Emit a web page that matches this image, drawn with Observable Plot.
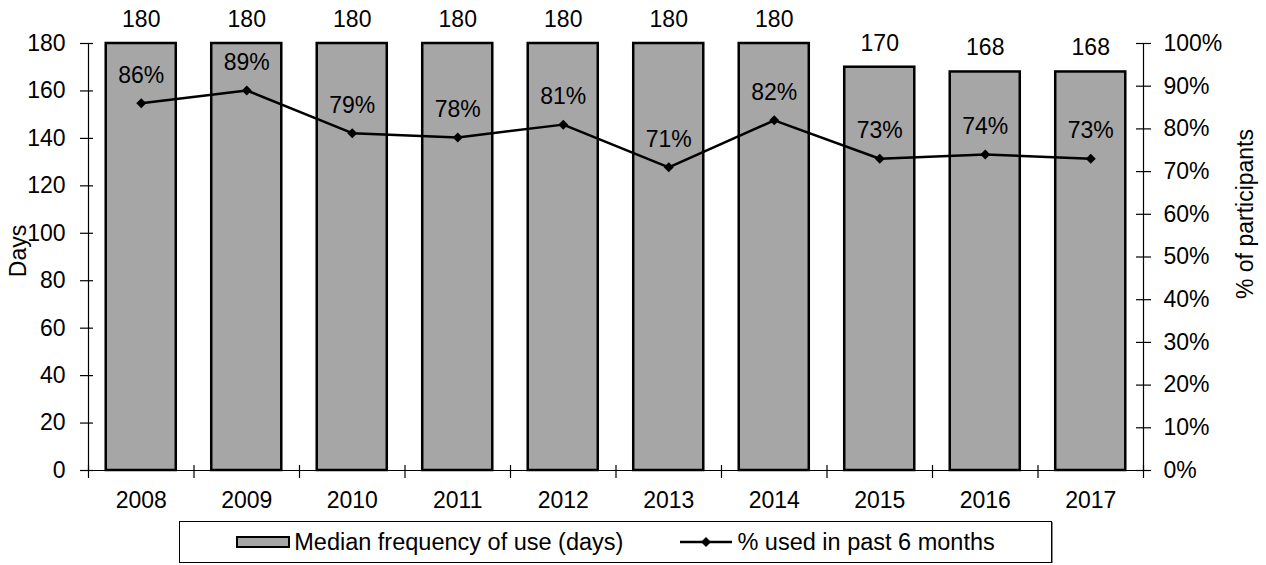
<!DOCTYPE html>
<html>
<head>
<meta charset="utf-8">
<script src="https://cdn.jsdelivr.net/npm/d3@7"></script>
<script src="https://cdn.jsdelivr.net/npm/@observablehq/plot@0.6"></script>
<style>
  body { margin: 0; background: #fff; font-family: "Liberation Sans", Arial, sans-serif; }
  #chart svg { display: block; }
  .legend {
    box-sizing: border-box;
    width: 873px; height: 42px;
    margin: 6px 0 0 179px;
    border: 1px solid #000;
    box-shadow: 1px 1px 0 #888;
    display: flex; align-items: center; justify-content: center; gap: 57px;
    font-size: 23.5px; color: #000;
  }
  .legend .item { display: flex; align-items: center; white-space: nowrap; }
  .legend .swatch {
    box-sizing: border-box; width: 54px; height: 12px;
    background: #a6a6a6; border: 2px solid #000; margin-right: 4px;
  }
  .legend svg { margin-right: 5px; }
</style>
</head>
<body>
<div id="chart"></div>
<script>
// Median number of days of use per year, and share of participants who used in the past 6 months
const years = ["2008", "2009", "2010", "2011", "2012", "2013", "2014", "2015", "2016", "2017"];
const medianDays = [180, 180, 180, 180, 180, 180, 180, 170, 168, 168];
const pctUsed = [86, 89, 79, 78, 81, 71, 82, 73, 74, 73];
const dayTicks = [0, 20, 40, 60, 80, 100, 120, 140, 160, 180];
const pctTicks = [0, 10, 20, 30, 40, 50, 60, 70, 80, 90, 100];
const seriesNames = ["Median frequency of use (days)", "% used in past 6 months"];
const axisTitles = ["Days", "% of participants"];

// The right-hand axis shares the plot height: 100% lines up with 180 days.
const DAYS_MAX = 180;
const toDays = p => p * DAYS_MAX / 100;

const rows = years.map((year, i) => ({ i, year, days: medianDays[i], pct: pctUsed[i] }));
const bandEdges = d3.range(years.length + 1).map(k => k - 0.5);
const halfBar = 0.332;

const font = `"Liberation Sans", Arial, sans-serif`;

const chart = Plot.plot({
  width: 1266,
  height: 515,
  marginLeft: 88,
  marginRight: 123,
  marginTop: 43,
  marginBottom: 45,
  style: { fontFamily: font, fontSize: "23px", color: "#000", background: "#fff" },
  x: { type: "linear", domain: [bandEdges[0], bandEdges[bandEdges.length - 1]] },
  y: { domain: [0, DAYS_MAX] },
  marks: [
    // bars
    Plot.rectY(rows, {
      x1: d => d.i - halfBar, x2: d => d.i + halfBar, y: "days",
      fill: "#a6a6a6", stroke: "#000", strokeWidth: 2.5
    }),
    // axis lines
    Plot.ruleY([0], { stroke: "#000", strokeWidth: 1.2 }),
    Plot.ruleX([bandEdges[0], bandEdges[bandEdges.length - 1]], { stroke: "#000", strokeWidth: 1.2 }),
    // left axis (days)
    Plot.axisY({
      anchor: "left", ticks: dayTicks, tickSize: 13, tickPadding: 15, dx: 5,
      label: null, fontSize: 23, strokeWidth: 1.2
    }),
    // right axis (percent)
    Plot.axisY({
      anchor: "right", ticks: pctTicks.map(toDays), tickFormat: v => Math.round(v * 100 / DAYS_MAX) + "%",
      tickSize: 15, tickPadding: 13, dx: -8, label: null, fontSize: 23, strokeWidth: 1.2
    }),
    // category boundary ticks and year labels
    Plot.axisX({
      ticks: bandEdges, tickSize: 13, dy: -5, tickFormat: () => "", label: null, strokeWidth: 1.2
    }),
    Plot.axisX({
      ticks: d3.range(years.length), tickSize: 0, tickPadding: 21,
      tickFormat: i => years[i], label: null, fontSize: 23
    }),
    // percentage line with diamond markers
    Plot.line(rows, { x: "i", y: d => toDays(d.pct), stroke: "#000", strokeWidth: 2.5 }),
    Plot.dot(rows, { x: "i", y: d => toDays(d.pct), symbol: "diamond2", r: 4.5, fill: "#000", stroke: "none" }),
    // value labels
    Plot.text(rows, { x: "i", y: "days", text: d => String(d.days), dy: -24, fontSize: 23, fill: "#000" }),
    Plot.text(rows, { x: "i", y: d => toDays(d.pct), text: d => d.pct + "%", dy: -28, fontSize: 23, fill: "#000" }),
    // axis titles
    Plot.text([axisTitles[0]], {
      text: d => d, frameAnchor: "left", textAnchor: "middle", dx: -70, dy: -6, rotate: -90, fontSize: 23, fill: "#000"
    }),
    Plot.text([axisTitles[1]], {
      text: d => d, frameAnchor: "right", textAnchor: "middle", dx: 102, dy: -43, rotate: -90, fontSize: 23, fill: "#000"
    })
  ]
});

document.getElementById("chart").appendChild(chart);

// legend below the chart
const legend = d3.select("body").append("div").attr("class", "legend");
const barItem = legend.append("span").attr("class", "item");
barItem.append("span").attr("class", "swatch");
barItem.append("span").text(seriesNames[0]);
const lineItem = legend.append("span").attr("class", "item");
const key = lineItem.append("svg").attr("width", 52).attr("height", 12);
key.append("line").attr("x1", 0).attr("x2", 52).attr("y1", 6).attr("y2", 6)
  .attr("stroke", "#000").attr("stroke-width", 2.5);
key.append("path").attr("transform", "translate(26,6)")
  .attr("d", d3.symbol(d3.symbolDiamond2, Math.PI * 20)()).attr("fill", "#000");
lineItem.append("span").text(seriesNames[1]);
</script>
</body>
</html>
